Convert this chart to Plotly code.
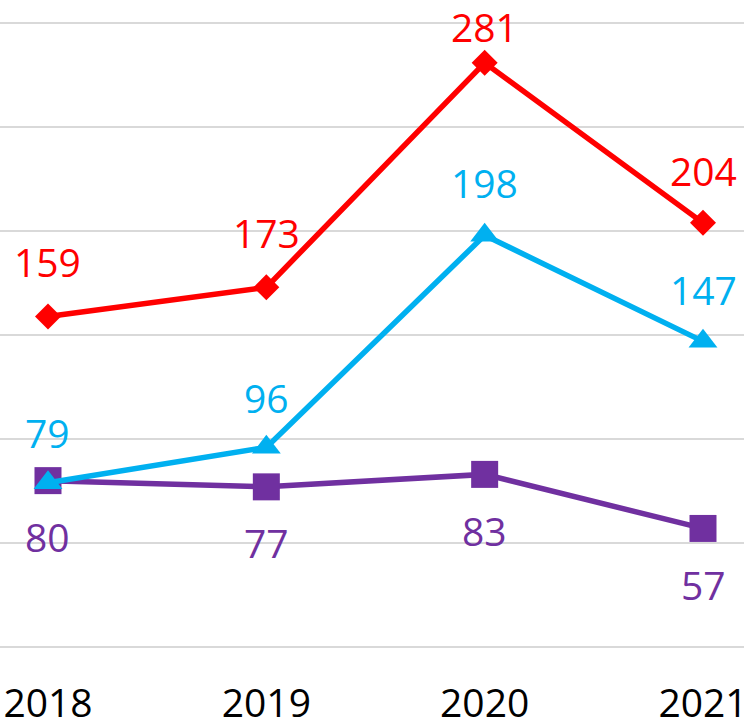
import plotly.graph_objects as go

years = ["2018", "2019", "2020", "2021"]
red_vals = [159, 173, 281, 204]
blue_vals = [79, 96, 198, 147]
purple_vals = [80, 77, 83, 57]

RED = "#FF0000"
BLUE = "#00B0F0"
PURPLE = "#7030A0"
FONT = "Open Sans"
FS = 39

xpos = list(range(len(years)))

fig = go.Figure()

series = [
    (purple_vals, PURPLE, "square", 27, [-56, -56, -56, -56]),
    (blue_vals, BLUE, "triangle-up", 25, [50, 50, 53, 52]),
    (red_vals, RED, "diamond", 20, [55, 55, 36, 52]),
]

for vals, color, sym, msize, shifts in series:
    fig.add_trace(go.Scatter(
        x=xpos, y=vals, mode="lines+markers",
        line=dict(color=color, width=5.5),
        marker=dict(symbol=sym, size=msize, color=color, line=dict(width=0)),
        showlegend=False, cliponaxis=False,
    ))
    for xv, yv, sh in zip(xpos, vals, shifts):
        fig.add_annotation(
            x=xv, y=yv, xref="x", yref="y", text=str(yv), showarrow=False,
            yshift=sh, font=dict(family=FONT, size=FS, color=color),
            xanchor="center", yanchor="middle",
        )

fig.update_layout(
    width=744, height=727,
    margin=dict(l=0, r=0, t=15, b=78, autoexpand=False),
    paper_bgcolor="white", plot_bgcolor="white",
    font=dict(family=FONT, size=FS, color="black"),
    xaxis=dict(
        range=[-0.2198, 3.1878], automargin=False,
        tickmode="array", tickvals=xpos, ticktext=years,
        showgrid=False, showline=False, zeroline=False,
        ticks="", ticklabelstandoff=28, ticklabeloverflow="allow",
        tickfont=dict(family=FONT, size=FS, color="black"),
    ),
    yaxis=dict(
        range=[-1, 304], tickvals=[0, 50, 100, 150, 200, 250, 300],
        automargin=False,
        showgrid=True, gridcolor="#d9d9d9", gridwidth=2,
        showline=False, zeroline=False, showticklabels=False, ticks="",
    ),
)

fig.write_html(
    "out.html",
    config={"displayModeBar": False},
    post_script="document.body.style.margin='0';document.body.style.overflow='hidden';",
)
